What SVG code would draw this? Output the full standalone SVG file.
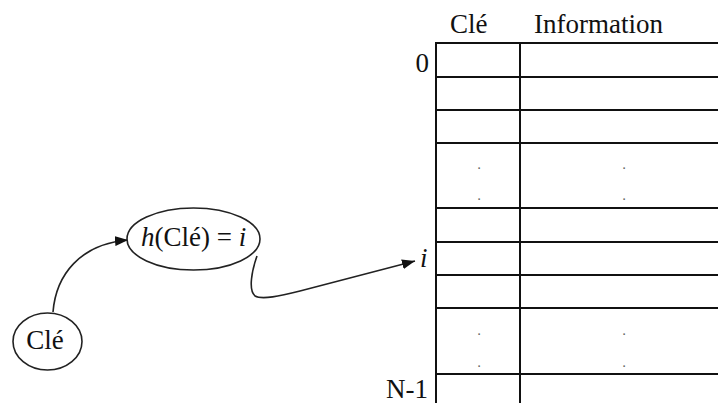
<svg xmlns="http://www.w3.org/2000/svg" width="718" height="403" viewBox="0 0 718 403">
<style>
text{font-family:"Liberation Serif","Times New Roman",serif;font-size:27px;fill:#111}
.it{font-style:italic}
.grid line{stroke:#111;stroke-width:2}
.node ellipse{fill:#fff;stroke:#222;stroke-width:1.6}
.conn path{fill:none;stroke:#222;stroke-width:1.6}
.dot{font-size:15px;fill:#666}
</style>
<defs>
<marker id="ah" markerUnits="userSpaceOnUse" markerWidth="14" markerHeight="10" refX="13" refY="5" orient="auto">
<path d="M0,0 L13,5 L0,10 z" fill="#111"/>
</marker>
</defs>
<g id="table" class="grid">
<line x1="436" y1="43" x2="718" y2="43"/>
<line x1="436" y1="77" x2="718" y2="77"/>
<line x1="436" y1="110" x2="718" y2="110"/>
<line x1="436" y1="143" x2="718" y2="143"/>
<line x1="436" y1="208" x2="718" y2="208"/>
<line x1="436" y1="242" x2="718" y2="242"/>
<line x1="436" y1="275" x2="718" y2="275"/>
<line x1="436" y1="308" x2="718" y2="308"/>
<line x1="436" y1="374" x2="718" y2="374"/>
<line x1="436" y1="42" x2="436" y2="403"/>
<line x1="520" y1="42" x2="520" y2="403"/>
</g>
<g id="labels">
<text x="450" y="33">Clé</text>
<text x="534" y="33">Information</text>
<text x="429" y="72" text-anchor="end">0</text>
<text x="420" y="267" class="it">i</text>
<text x="428" y="398" text-anchor="end">N-1</text>
<text x="479" y="169" class="dot" text-anchor="middle">.</text>
<text x="479" y="200" class="dot" text-anchor="middle">.</text>
<text x="624" y="169" class="dot" text-anchor="middle">.</text>
<text x="624" y="200" class="dot" text-anchor="middle">.</text>
<text x="479" y="335" class="dot" text-anchor="middle">.</text>
<text x="479" y="367" class="dot" text-anchor="middle">.</text>
<text x="624" y="335" class="dot" text-anchor="middle">.</text>
<text x="624" y="367" class="dot" text-anchor="middle">.</text>
</g>
<g id="conn" class="conn">
<path d="M53,312 C56,275 80,244 128,240" marker-end="url(#ah)"/>
<path d="M257,256 C252,270 248,290 255,296 C262,300 280,296 300,291 L415,261" marker-end="url(#ah)"/>
</g>
<g id="node-cle" class="node">
<ellipse cx="47.5" cy="341.5" rx="34.5" ry="28.5"/>
<text x="45" y="349" text-anchor="middle">Clé</text>
</g>
<g id="node-hash" class="node">
<ellipse cx="193.5" cy="239" rx="66.5" ry="31"/>
<text x="141" y="246"><tspan class="it">h</tspan>(Clé) = <tspan class="it">i</tspan></text>
</g>
</svg>
